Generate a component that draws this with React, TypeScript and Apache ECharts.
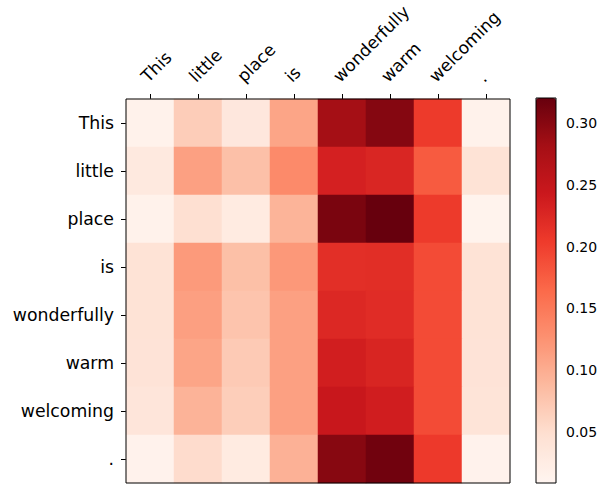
import React, { useEffect, useRef } from "react";
import * as echarts from "echarts";

const words = ["This", "little", "place", "is", "wonderfully", "warm", "welcoming", "."];

const row0 = [0.015, 0.068, 0.034, 0.108, 0.281, 0.301, 0.205, 0.015];
const row1 = [0.031, 0.112, 0.081, 0.133, 0.233, 0.227, 0.177, 0.043];
const row2 = [0.015, 0.048, 0.028, 0.093, 0.308, 0.320, 0.205, 0.013];
const row3 = [0.043, 0.118, 0.082, 0.120, 0.217, 0.218, 0.190, 0.043];
const row4 = [0.043, 0.113, 0.077, 0.112, 0.224, 0.220, 0.190, 0.043];
const row5 = [0.042, 0.108, 0.071, 0.112, 0.236, 0.228, 0.190, 0.042];
const row6 = [0.038, 0.094, 0.067, 0.112, 0.245, 0.237, 0.190, 0.040];
const row7 = [0.014, 0.052, 0.028, 0.096, 0.300, 0.314, 0.206, 0.014];
const rows = [row0, row1, row2, row3, row4, row5, row6, row7];

const colorMin = 0.009;
const colorMax = 0.32;
const colorTicks = [0.05, 0.1, 0.15, 0.2, 0.25, 0.3];
const reds = ["#fff5f0", "#fee0d2", "#fcbba1", "#fc9272", "#fb6a4a", "#ef3b2c", "#cb181d", "#a50f15", "#67000d"];

export default function App() {
  const ref = useRef<HTMLDivElement>(null);
  useEffect(() => {
    if (!ref.current) return;
    const chart = echarts.init(ref.current, null, { renderer: "svg" });
    const data: number[][] = [];
    rows.forEach((r, y) => r.forEach((v, x) => data.push([x, y, v])));
    const font = "DejaVu Sans";
    chart.setOption({
      animation: false,
      backgroundColor: "#fff",
      grid: [
        { left: 126, top: 99, width: 384, height: 384 },
        { left: 536, top: 98, width: 20, height: 385 },
      ],
      xAxis: [
        {
          type: "category",
          gridIndex: 0,
          position: "top",
          data: words,
          axisLine: { show: false },
          axisTick: { show: true, alignWithLabel: true, length: 5, lineStyle: { color: "#000" } },
          axisLabel: {
            rotate: -45,
            fontSize: 17,
            color: "#000",
            fontFamily: font,
            margin: 14,
            align: "left",
            verticalAlign: "bottom",
          },
          splitLine: { show: false },
        },
        {
          type: "value",
          gridIndex: 1,
          show: false,
          min: 0,
          max: 1,
        },
      ],
      yAxis: [
        {
          type: "category",
          gridIndex: 0,
          inverse: true,
          data: words,
          axisLine: { show: false },
          axisTick: { show: true, alignWithLabel: true, length: 5, lineStyle: { color: "#000" } },
          axisLabel: { fontSize: 17.3, color: "#000", fontFamily: font, margin: 12 },
          splitLine: { show: false },
        },
        {
          type: "value",
          gridIndex: 1,
          position: "right",
          min: colorMin,
          max: colorMax,
          axisLine: { show: false },
          splitLine: { show: false },
          axisTick: { show: true, length: 5, customValues: colorTicks, lineStyle: { color: "#000" } },
          axisLabel: {
            show: true,
            customValues: colorTicks,
            fontSize: 14,
            color: "#000",
            fontFamily: font,
            margin: 10,
            formatter: (v: number) => v.toFixed(2),
          },
        },
      ],
      visualMap: {
        type: "continuous",
        seriesIndex: 0,
        min: colorMin,
        max: colorMax,
        calculable: false,
        left: 536,
        top: 98,
        padding: 0,
        itemWidth: 20,
        itemHeight: 385,
        inRange: { color: reds },
      },
      graphic: [
        {
          type: "rect",
          z: 100,
          shape: { x: 126, y: 99, width: 384, height: 384 },
          style: { fill: "none", stroke: "#000", lineWidth: 1 },
        },
        {
          type: "rect",
          z: 100,
          shape: { x: 536, y: 98, width: 20, height: 385 },
          style: { fill: "none", stroke: "#000", lineWidth: 1 },
        },
      ],
      series: [
        {
          type: "heatmap",
          xAxisIndex: 0,
          yAxisIndex: 0,
          data,
          itemStyle: { borderWidth: 0 },
          emphasis: { disabled: true },
        },
      ],
    });
    return () => chart.dispose();
  }, []);
  return <div ref={ref} style={{ position: "absolute", left: 0, top: 0, width: 610, height: 484 }} />;
}
